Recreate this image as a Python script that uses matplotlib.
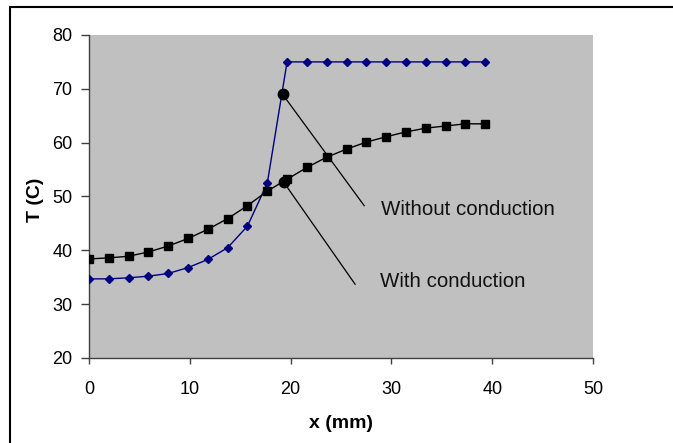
import matplotlib.pyplot as plt
from matplotlib.patches import Rectangle

plt.rcParams['font.family'] = ['Liberation Sans', 'DejaVu Sans']

# data
x_mm = [0, 1.97, 3.93, 5.90, 7.86, 9.83, 11.79, 13.76, 15.72, 17.69, 19.65,
        21.62, 23.58, 25.55, 27.51, 29.48, 31.44, 33.41, 35.37, 37.34, 39.30]
t_without = [34.7, 34.7, 34.9, 35.2, 35.7, 36.8, 38.3, 40.5, 44.5, 52.5, 75.0,
             75.0, 75.0, 75.0, 75.0, 75.0, 75.0, 75.0, 75.0, 75.0, 75.0]
t_with = [38.4, 38.6, 38.9, 39.7, 40.8, 42.2, 43.9, 45.9, 48.3, 51.0, 53.2,
          55.4, 57.3, 58.8, 60.1, 61.1, 62.0, 62.7, 63.1, 63.5, 63.5]

# callouts: marker point, end of leader line, label anchor
labels = ['Without conduction', 'With conduction']
point_x = [19.2, 19.3]
point_y = [69.0, 52.7]
leader_x = [27.3, 26.4]
leader_y = [48.3, 33.7]
label_x = [29.0, 28.9]
label_y = [47.5, 34.2]

fig = plt.figure(figsize=(6.73, 4.43), dpi=100)
ax = fig.add_axes([89 / 673, 85 / 443, 504 / 673, 323 / 443])
ax.set_facecolor('#C0C0C0')

ax.plot(x_mm, t_without, color='#000080', lw=1.0, marker='D', ms=3.9,
        markerfacecolor='#000080', markeredgecolor='#000080', zorder=3)
ax.plot(x_mm, t_with, color='black', lw=1.0, marker='s', ms=5.6,
        markerfacecolor='black', markeredgecolor='black', zorder=3)

for i in range(len(labels)):
    ax.plot([point_x[i], leader_x[i]], [point_y[i], leader_y[i]],
            color='black', lw=0.9, zorder=4)
    ax.plot(point_x[i], point_y[i], 'o', color='black', ms=7.5, zorder=5)
    ax.text(label_x[i], label_y[i], labels[i], fontsize=14.8,
            ha='left', va='center', color='#111111')

ax.set_xlim(0, 50)
ax.set_ylim(20, 80)
ax.set_xticks([0, 10, 20, 30, 40, 50])
ax.set_yticks([20, 30, 40, 50, 60, 70, 80])

for side in ['top', 'right']:
    ax.spines[side].set_visible(False)
for side in ['left', 'bottom']:
    ax.spines[side].set_color('#404040')
    ax.spines[side].set_linewidth(1.0)

ax.tick_params(axis='y', direction='out', length=6, width=1, color='#404040',
               pad=6, labelsize=13)
ax.tick_params(axis='x', direction='out', length=4.5, width=1, color='#404040',
               pad=12, labelsize=13)

ax.set_xlabel('x (mm)', fontsize=14, fontweight='bold')
ax.set_ylabel('T (C)', fontsize=14, fontweight='bold')
ax.xaxis.set_label_coords(0.5, -0.204)
ax.xaxis.label.set_verticalalignment('center')
ax.yaxis.set_label_coords(-0.107, 0.489)
ax.yaxis.label.set_verticalalignment('center')

# outer chart border (cut off at right and bottom)
fig.add_artist(Rectangle((10 / 673, -0.2), 2, 0.2 + 436 / 443,
                         transform=fig.transFigure, fill=False,
                         edgecolor='black', lw=1.5, clip_on=False))

fig.savefig('out.png', dpi=100)
